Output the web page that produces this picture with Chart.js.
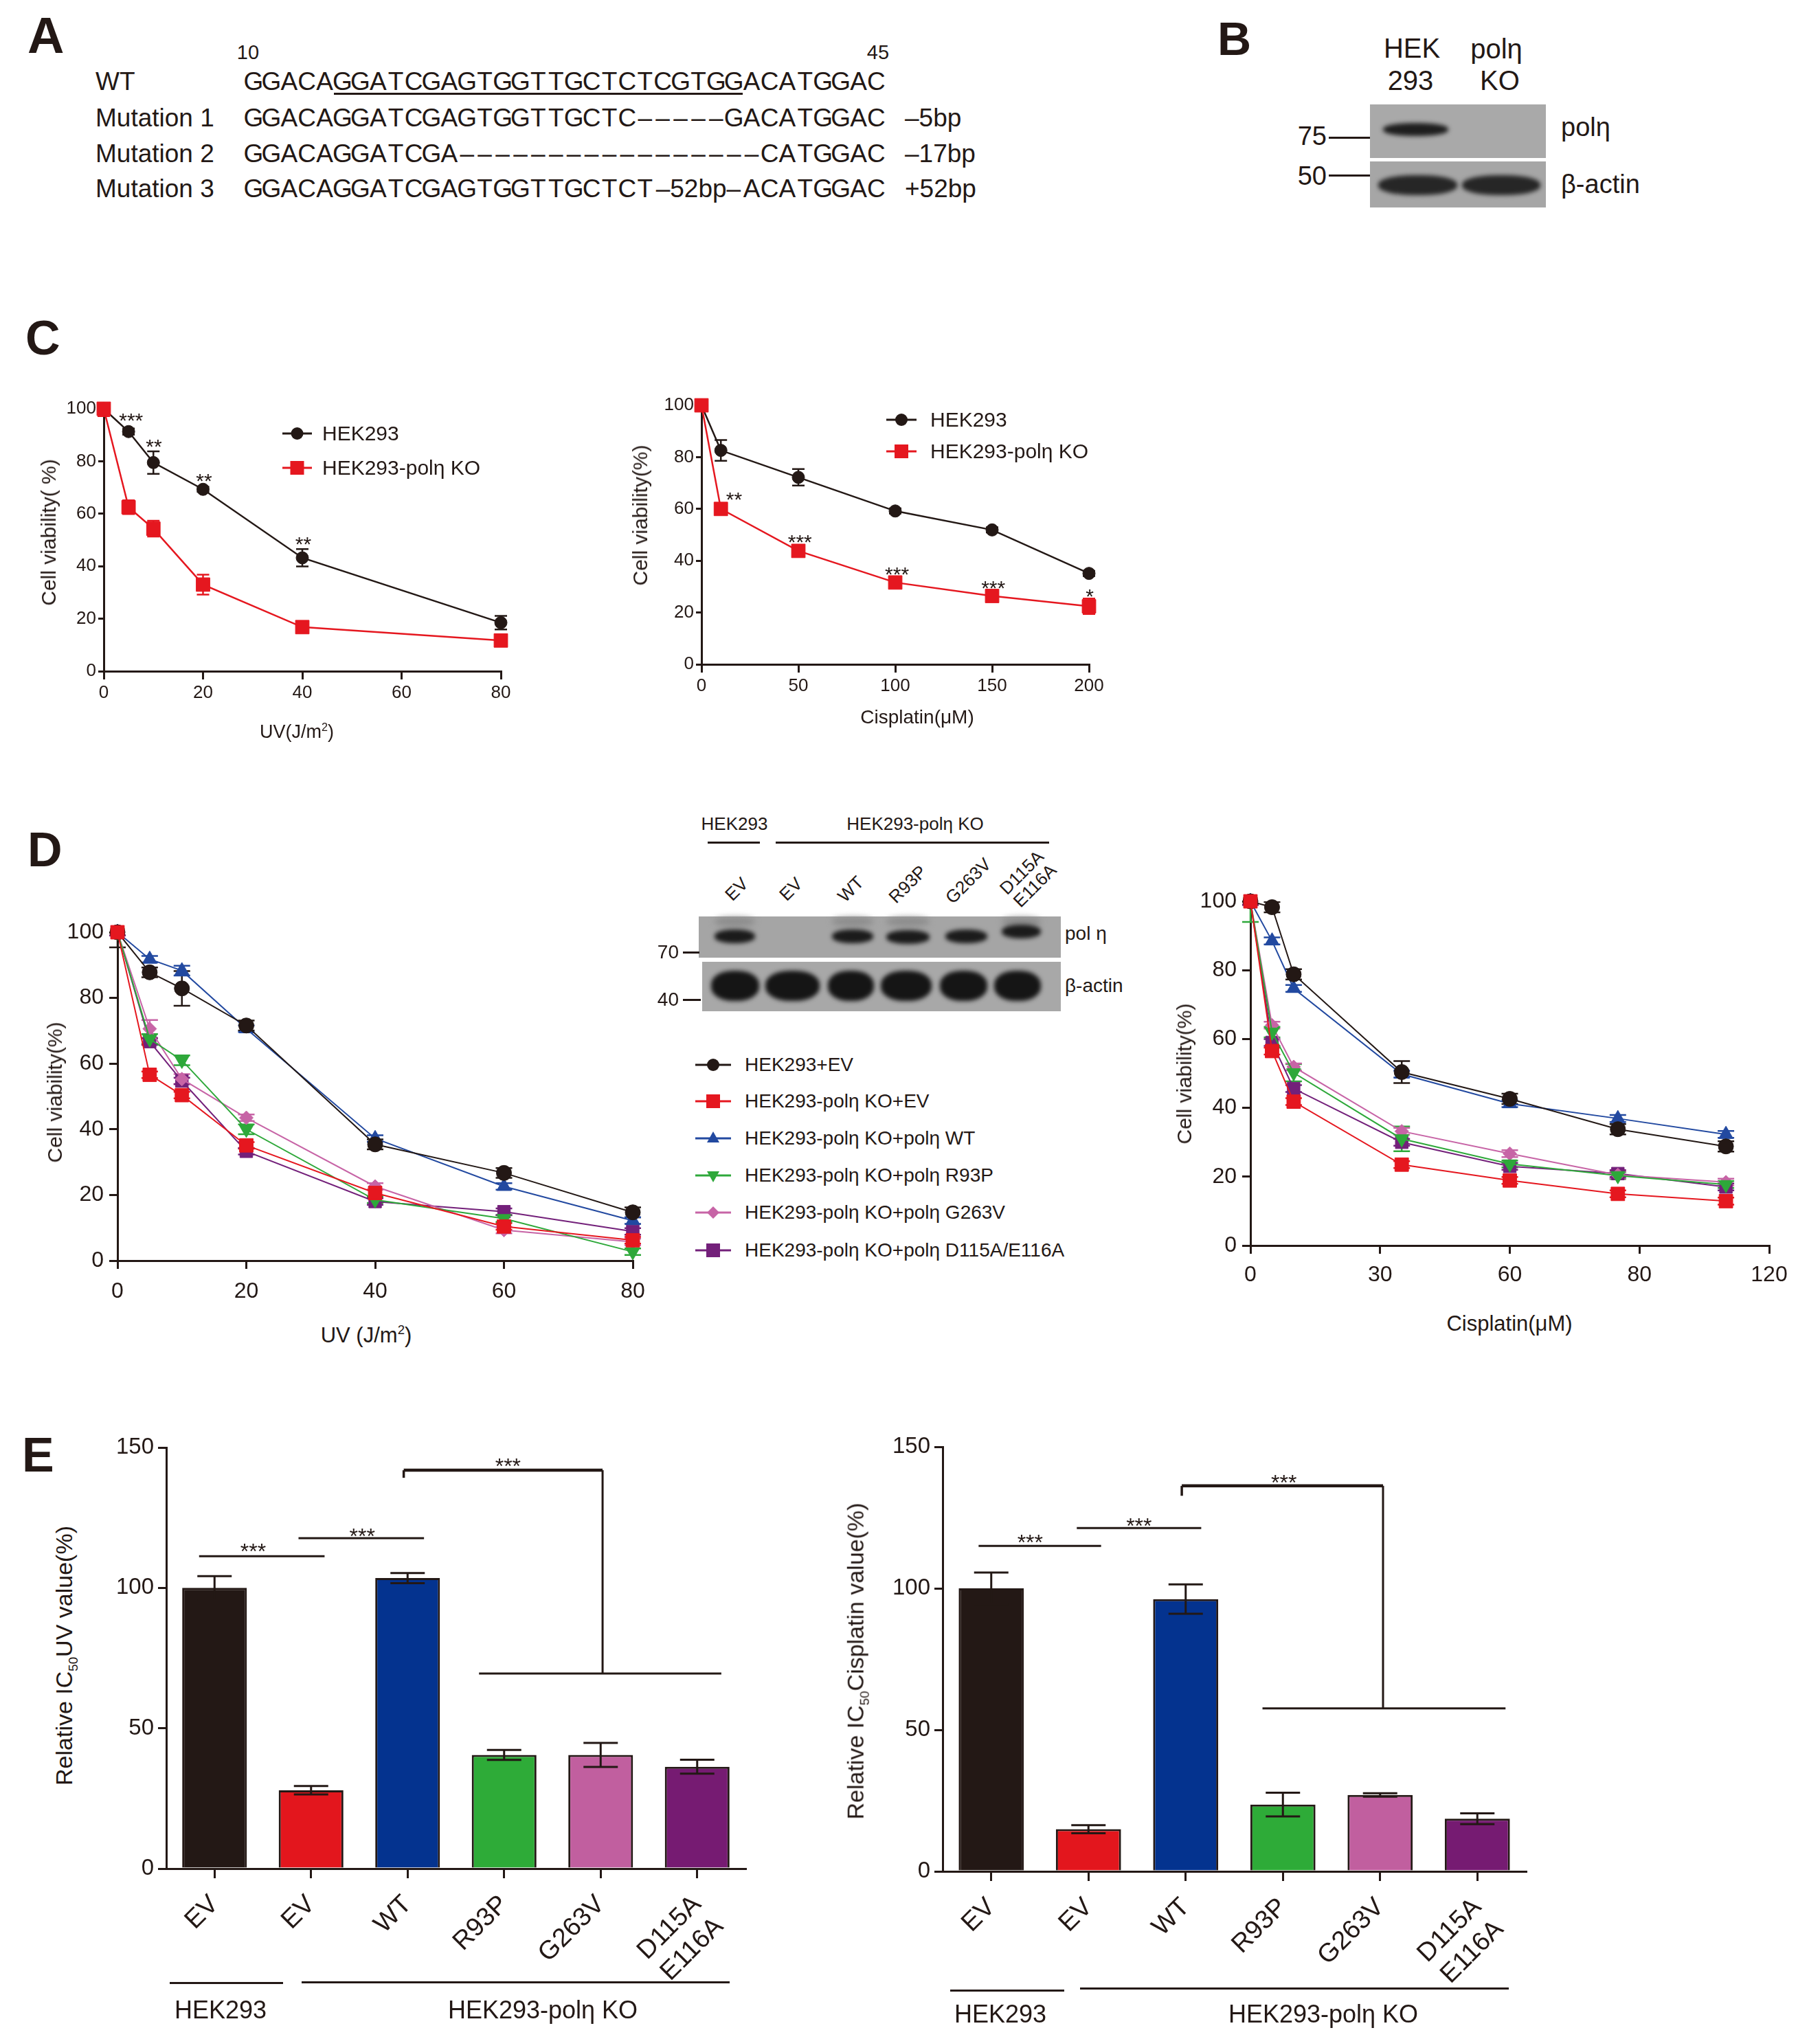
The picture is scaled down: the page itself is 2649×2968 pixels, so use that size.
<!DOCTYPE html>
<html><head><meta charset="utf-8">
<script src="https://cdn.jsdelivr.net/npm/chart.js@4.4.1/dist/chart.umd.min.js"></script>
<style>
html,body{margin:0;padding:0;background:#fff;}
#page{position:relative;width:2649px;height:2968px;overflow:hidden;background:#fff;font-family:"Liberation Sans",Arial,sans-serif;color:#231815;}
.t{position:absolute;white-space:nowrap;line-height:1;z-index:3;}
canvas{position:absolute;z-index:1;}
.ln{position:absolute;background:#231815;z-index:3;}
.blot{position:absolute;z-index:1;}
.band{position:absolute;background:#1b1b1b;border-radius:45%;filter:blur(3px);z-index:2;}
svg.lg{position:absolute;overflow:visible;z-index:3;}
</style></head><body><div id="page"></div>
<script>
// ---------------- DATA ----------------
// Panel C, UV
const uvDoseC   = [0, 5, 10, 20, 40, 80];
const uvHekC    = [100, 91.3, 79.5, 69.3, 43.2, 18.5];
const uvHekErrC = [0.8, 1.2, 4.3, 1.0, 3.3, 2.6];
const uvKoC     = [100, 62.5, 54.3, 33.0, 16.8, 11.7];
const uvKoErrC  = [2.8, 2.6, 3.0, 3.8, 1.2, 1.0];
const uvStarX   = [5.5, 10.1, 20.2, 40.2];
const uvStarY   = [97.5, 87.5, 74.5, 50.3];
const uvStarT   = ['***', '**', '**', '**'];
// Panel C, cisplatin
const cisDoseC   = [0, 10, 50, 100, 150, 200];
const cisHekC    = [100, 82.6, 72.2, 59.2, 51.9, 35.1];
const cisHekErrC = [0.8, 4.0, 3.2, 1.0, 1.0, 1.0];
const cisKoC     = [100, 60.0, 43.8, 31.6, 26.4, 22.4];
const cisKoErrC  = [1.0, 1.0, 1.0, 1.5, 1.2, 3.0];
const cisStarX   = [16.8, 50.8, 100.9, 150.6, 200.4];
const cisStarY   = [65.5, 49.2, 36.8, 31.4, 28.2];
const cisStarT   = ['**', '***', '***', '***', '*'];
// Panel D
const dNames = ['HEK293+EV', 'HEK293-polη KO+EV', 'HEK293-polη KO+polη WT', 'HEK293-polη KO+polη R93P', 'HEK293-polη KO+polη G263V', 'HEK293-polη KO+polη D115A/E116A'];
const uvDoseD = [0, 5, 10, 20, 40, 60, 80];
const uvHekEV  = [100, 87.8, 82.9, 71.6, 35.4, 26.7, 14.7];
const uvKoEV   = [100, 56.6, 50.4, 35.1, 20.6, 10.4, 6.2];
const uvKoWT   = [100, 91.8, 88.3, 70.6, 37.2, 22.6, 12.2];
const uvKoR93P = [100, 67.5, 61.0, 40.0, 18.5, 12.8, 2.7];
const uvKoG263V= [100, 70.6, 55.3, 43.5, 22.6, 9.3, 5.7];
const uvKoDE   = [100, 66.7, 54.7, 33.3, 18.0, 14.9, 8.9];
const uvErrHekEV = [4.6, 1.5, 5.3, 1.5, 1.5, 1.5, 1.5];
const uvErrKoEV  = [1, 1, 1, 1, 1, 1, 1];
const uvErrKoWT  = [1, 1, 1.5, 1, 1, 1, 1];
const uvErrR93P  = [1, 1.5, 1.5, 1.5, 1, 1, 1];
const uvErrG263V = [1, 2.7, 1.5, 1, 1, 1, 1];
const uvErrDE    = [1, 1, 1, 1, 1, 1, 1];
const cisDoseD = [0, 5, 10, 35, 60, 85, 110];
const cisTickText = ['0', '30', '60', '80', '120'];
const cisHekEV  = [100, 98.3, 78.8, 50.4, 42.6, 33.8, 28.8];
const cisKoEV   = [100, 56.5, 41.8, 23.5, 18.9, 15.0, 12.9];
const cisKoWT   = [100, 88.5, 74.7, 49.8, 41.2, 36.9, 32.3];
const cisKoR93P = [100, 62.0, 50.2, 31.0, 23.7, 20.3, 17.7];
const cisKoG263V= [100, 64.0, 51.9, 33.2, 26.7, 20.5, 18.4];
const cisKoDE   = [100, 59.0, 45.6, 30.0, 23.0, 20.9, 17.0];
const cisErrHekEV = [1, 1.5, 1.5, 3.2, 1.5, 1.5, 1.5];
const cisErrKoEV  = [1, 1, 1, 1, 1, 1, 1];
const cisErrKoWT  = [1, 1, 1, 1, 1, 1, 1];
const cisErrR93P  = [6, 1.5, 2.5, 3.6, 1, 1, 1];
const cisErrG263V = [1, 1, 1, 1, 1, 1, 1];
const cisErrDE    = [1, 1, 1, 1, 1, 1, 1];
// Panel E
const eCats = ['EV', 'EV', 'WT', 'R93P', 'G263V', ['D115A', 'E116A']];
const eUv       = [100, 27.9, 103.5, 40.5, 40.5, 36.3];
const eUvErr    = [4.2, 1.5, 1.8, 1.8, 4.3, 2.5];
const eCis      = [100, 14.9, 96.2, 23.6, 27.0, 18.6];
const eCisErr   = [5.6, 1.4, 5.2, 4.2, 0.6, 1.9];
// significance lines in (category, value) units: [x1, x2, y]
const eUvSig   = [[-0.16, 1.14, 111.3], [0.87, 2.17, 117.7]];
const eUvBig   = [1.96, 4.02, 141.9, 139.2, 69.5, 2.74, 5.25];
const eUvStars = [[0.40, 114.8], [1.53, 120.4], [3.04, 145.3]];
const eCisSig  = [[-0.13, 1.13, 115.0], [0.88, 2.16, 121.3]];
const eCisBig  = [1.96, 4.03, 136.2, 132.7, 57.6, 2.79, 5.29];
const eCisStars= [[0.40, 118.0], [1.52, 124.0], [3.01, 139.1]];

// ---------------- STYLE ----------------
const AX = '#231815', BLK = '#231815', RED = '#e5171f';
const dColors = ['#231815', '#e5171f', '#2249a0', '#2ea83a', '#c764a6', '#73207a'];
const dStyles = ['circle', 'rect', 'triangle', 'triangle', 'rectRot', 'rect'];
const dRot    = [0, 0, 0, 180, 0, 0];
const dRad    = [11, 14, 12, 12, 10, 13];
const dOrder  = [1, 0, 2, 3, 4, 5];
const eColors = ['#231815', '#e3161d', '#04338f', '#2eab38', '#c15f9f', '#761b72'];
const FONT = '"Liberation Sans", Arial, sans-serif';

const page = document.getElementById('page');
function el(tag, cls, css, html) {
  const d = document.createElement(tag);
  if (cls) d.className = cls;
  Object.assign(d.style, css);
  if (html !== undefined) d.innerHTML = html;
  page.appendChild(d);
  return d;
}
// text positioned by visual centre; align l/c/r
function T(html, x, cy, size, align, extra) {
  const tx = align === 'c' ? '-50%' : align === 'r' ? '-100%' : '0';
  return el('div', 't', Object.assign({ left: x + 'px', top: cy + 'px', fontSize: size + 'px', transform: `translate(${tx},-50%)` }, extra || {}), html);
}
function R(html, cx, cy, size, deg, extra) {
  return el('div', 't', Object.assign({ left: cx + 'px', top: cy + 'px', fontSize: size + 'px', transform: `translate(-50%,-50%) rotate(${deg}deg)`, textAlign: 'center' }, extra || {}), html);
}
function L(x1, y, x2, h) { return el('div', 'ln', { left: x1 + 'px', top: (y - h / 2) + 'px', width: (x2 - x1) + 'px', height: h + 'px' }); }
function blot(x1, y1, x2, y2, col) { return el('div', 'blot', { left: x1 + 'px', top: y1 + 'px', width: (x2 - x1) + 'px', height: (y2 - y1) + 'px', background: col }); }
function band(x1, y1, x2, y2, col, blur) { return el('div', 'band', { left: x1 + 'px', top: y1 + 'px', width: (x2 - x1) + 'px', height: (y2 - y1) + 'px', background: col || '#1b1b1b', filter: `blur(${blur || 3}px)` }); }
function shapeSvg(shape, cx, cy, s, col) {
  if (shape === 'circle') return `<circle cx="${cx}" cy="${cy}" r="${s}" fill="${col}"/>`;
  if (shape === 'square') return `<rect x="${cx - s}" y="${cy - s}" width="${2 * s}" height="${2 * s}" fill="${col}"/>`;
  if (shape === 'up') return `<polygon points="${cx},${cy - s} ${cx + 0.9 * s},${cy + 0.6 * s} ${cx - 0.9 * s},${cy + 0.6 * s}" fill="${col}"/>`;
  if (shape === 'down') return `<polygon points="${cx},${cy + s} ${cx + 0.9 * s},${cy - 0.6 * s} ${cx - 0.9 * s},${cy - 0.6 * s}" fill="${col}"/>`;
  if (shape === 'diamond') return `<polygon points="${cx},${cy - s} ${cx + s},${cy} ${cx},${cy + s} ${cx - s},${cy}" fill="${col}"/>`;
  return '';
}
function legendRow(x1, x2, cy, col, shape, s, label, tx, fs) {
  const w = x2 - x1;
  const d = el('div', '', { position: 'absolute', left: x1 + 'px', top: (cy - 20) + 'px', width: w + 'px', height: '40px', zIndex: 3 });
  d.innerHTML = `<svg class="lg" width="${w}" height="40" style="left:0;top:0"><line x1="0" y1="20" x2="${w}" y2="20" stroke="${col}" stroke-width="3"/>${shapeSvg(shape, w / 2, 20, s, col)}</svg>`;
  T(label, tx, cy, fs, 'l');
}

// ---------------- PANEL A ----------------
T('<b>A</b>', 40, 52, 74, 'l', { fontWeight: 'bold' });
T('10', 361, 76, 29, 'c');
T('45', 1278, 76, 29, 'c');
const seqLeft = 356, cellW = 25.9;
const rowsA = [['WT', 'GGACAGGATCGAGTGGTTGCTCTCGTGGACATGGAC', '', 118],
               ['Mutation 1', 'GGACAGGATCGAGTGGTTGCTC-----GACATGGAC', '–5bp', 171],
               ['Mutation 2', 'GGACAGGATCGA-----------------CATGGAC', '–17bp', 223],
               ['Mutation 3', null, '+52bp', 274]];
function seqCells(str, startCell, cy) {
  for (let i = 0; i < str.length; i++) {
    const ch = str[i] === '-' ? '–' : str[i];
    T(ch, seqLeft + (startCell + i + 0.5) * cellW, cy, 37, 'c');
  }
}
rowsA.forEach(r => {
  T(r[0], 139, r[3], 37, 'l');
  if (r[1]) seqCells(r[1], 0, r[3]);
  else {
    seqCells('GGACAGGATCGAGTGGTTGCTCT', 0, r[3]);
    T('–52bp–', seqLeft + 25.5 * cellW, r[3], 37, 'c');
    seqCells('ACATGGAC', 28, r[3]);
  }
  if (r[2]) T(r[2], 1317, r[3], 37, 'l');
});
L(seqLeft + 5 * cellW, 136, seqLeft + 28 * cellW, 3);

// ---------------- PANEL B ----------------
T('<b>B</b>', 1772, 56, 68, 'l');
T('HEK', 2055, 70, 40, 'c'); T('293', 2053, 117, 40, 'c');
T('polη', 2178, 71, 40, 'c'); T('KO', 2183, 117, 40, 'c');
blot(1994, 152, 2250, 230, '#a9a9a9');
blot(1994, 235, 2250, 302, '#a6a6a6');
band(2013, 179, 2108, 198, '#1e1e1e', 3);
band(2006, 255, 2121, 284, '#262626', 3);
band(2128, 255, 2242, 284, '#262626', 3);
T('75', 1931, 198, 38, 'r'); L(1934, 200, 1994, 3);
T('50', 1931, 256, 38, 'r'); L(1934, 255, 1994, 3);
T('polη', 2272, 185, 38, 'l');
T('β-actin', 2272, 268, 38, 'l');

// ---------------- PANEL C / D / E letters ----------------
T('<b>C</b>', 37, 492, 70, 'l');
T('<b>D</b>', 40, 1237, 70, 'l');
T('<b>E</b>', 32, 2118, 70, 'l');

// ---------------- Chart.js helpers ----------------
Chart.defaults.font.family = FONT;
Chart.defaults.color = AX;
const errPlugin = {
  id: 'errbars',
  beforeDatasetsDraw(chart) { drawErr(chart, 'line'); },
  afterDatasetsDraw(chart) { drawErr(chart, 'bar'); }
};
function drawErr(chart, kind) {
  if (chart.config.type !== kind) return;
  const ctx = chart.ctx, ys = chart.scales.y, ca = chart.chartArea;
  ctx.save();
  ctx.beginPath();
  ctx.rect(ca.left - 40, ca.top, ca.right - ca.left + 80, ca.bottom - ca.top);
  ctx.clip();
  chart.data.datasets.forEach((ds, di) => {
    if (!ds.errors) return;
    const meta = chart.getDatasetMeta(di);
    meta.data.forEach((p, i) => {
      const e = ds.errors[i]; if (!e) return;
      const v = kind === 'bar' ? ds.data[i] : ds.data[i].y;
      const x = p.x, yT = ys.getPixelForValue(v + e), yB = ys.getPixelForValue(v - e), c = ds.capW || 9;
      ctx.strokeStyle = ds.errColor || ds.borderColor; ctx.lineWidth = ds.errWidth || 2.5;
      ctx.beginPath();
      ctx.moveTo(x, yT); ctx.lineTo(x, yB);
      ctx.moveTo(x - c, yT); ctx.lineTo(x + c, yT);
      ctx.moveTo(x - c, yB); ctx.lineTo(x + c, yB);
      ctx.stroke();
    });
  });
  ctx.restore();
}
const sigPlugin = {
  id: 'sig',
  afterDraw(chart, args, o) {
    if (!o || (!o.stars && !o.lines)) return;
    const ctx = chart.ctx, xs = chart.scales.x, ys = chart.scales.y;
    ctx.save();
    ctx.strokeStyle = AX; ctx.fillStyle = AX;
    (o.lines || []).forEach(l => {
      ctx.lineWidth = l[3] || 3;
      ctx.beginPath();
      ctx.moveTo(xs.getPixelForValue(l[0]), ys.getPixelForValue(l[2]));
      ctx.lineTo(xs.getPixelForValue(l[1]), ys.getPixelForValue(l[2]));
      ctx.stroke();
    });
    if (o.big) {
      const b = o.big;
      const X1 = xs.getPixelForValue(b[0]), X2 = xs.getPixelForValue(b[1]);
      const Y = ys.getPixelForValue(b[2]), YT = ys.getPixelForValue(b[3]), YL = ys.getPixelForValue(b[4]);
      ctx.lineWidth = 4.5; ctx.beginPath(); ctx.moveTo(X1, Y); ctx.lineTo(X2, Y); ctx.stroke();
      ctx.lineWidth = 3.5; ctx.beginPath(); ctx.moveTo(X1, Y); ctx.lineTo(X1, YT); ctx.stroke();
      ctx.lineWidth = 3; ctx.beginPath(); ctx.moveTo(X2, Y); ctx.lineTo(X2, YL);
      ctx.moveTo(xs.getPixelForValue(b[5]), YL); ctx.lineTo(xs.getPixelForValue(b[6]), YL); ctx.stroke();
    }
    const fs = o.fs || 30;
    ctx.font = `${fs}px ${FONT}`; ctx.textAlign = 'center'; ctx.textBaseline = 'alphabetic';
    (o.stars || []).forEach(s => {
      ctx.fillText(s[2] || '***', xs.getPixelForValue(s[0]), ys.getPixelForValue(s[1]) + 0.58 * fs);
    });
    ctx.restore();
  }
};
Chart.register(errPlugin, sigPlugin);

function linScale(o) {
  return {
    type: 'linear', min: o.min, max: o.max,
    ticks: { stepSize: o.step, font: { size: o.fs }, color: AX, padding: o.pad, autoSkip: false, maxRotation: 0, minRotation: 0,
             callback: o.cb || (v => String(v)) },
    grid: { display: true, drawOnChartArea: false, drawTicks: true, tickLength: o.tl, tickWidth: 3, tickColor: AX, lineWidth: 3, color: AX },
    border: { display: true, color: AX, width: 3 }
  };
}
function makeChart(cfg, a, m) {
  const c = document.createElement('canvas');
  const W = a.r - a.l + m.l + m.r, H = a.b - a.t + m.t + m.b;
  c.width = W; c.height = H;
  Object.assign(c.style, { left: (a.l - m.l) + 'px', top: (a.t - m.t) + 'px', width: W + 'px', height: H + 'px' });
  page.appendChild(c);
  cfg.options.scales.x.afterFit = s => { s.height = m.b; s.paddingLeft = 0; s.paddingRight = 0; };
  cfg.options.scales.y.afterFit = s => { s.width = m.l; s.paddingTop = 0; s.paddingBottom = 0; };
  cfg.options.layout = { padding: { left: 0, top: m.t, right: m.r, bottom: 0 } };
  cfg.options.responsive = false; cfg.options.maintainAspectRatio = false;
  cfg.options.animation = false; cfg.options.devicePixelRatio = 1;
  cfg.options.plugins = Object.assign({ legend: { display: false }, tooltip: { enabled: false } }, cfg.options.plugins || {});
  return new Chart(c, cfg);
}
function lineDS(label, xs, ys, errs, color, style, radius, rot, width, order, cap) {
  return { label, data: xs.map((x, i) => ({ x, y: ys[i] })), errors: errs,
    borderColor: color, backgroundColor: color, pointBackgroundColor: color, pointBorderColor: color, pointBorderWidth: 1,
    pointStyle: style, pointRadius: radius, pointRotation: rot, borderWidth: width, tension: 0, clip: false, order,
    capW: cap || 9, errWidth: 2.5 };
}
const zip3 = (xs, ys, ts) => xs.map((x, i) => [x, ys[i], ts[i]]);

// ---------------- PANEL C charts ----------------
makeChart({ type: 'line', data: { datasets: [
    lineDS('HEK293', uvDoseC, uvHekC, uvHekErrC, BLK, 'circle', 9, 0, 2.5, 1),
    lineDS('HEK293-polη KO', uvDoseC, uvKoC, uvKoErrC, RED, 'rect', 14, 0, 2.5, 0) ] },
  options: { scales: { x: linScale({ min: 0, max: 80, step: 20, fs: 26, tl: 12, pad: 4 }),
                       y: linScale({ min: 0, max: 100, step: 20, fs: 26, tl: 8, pad: 3 }) },
             plugins: { sig: { fs: 30, stars: zip3(uvStarX, uvStarY, uvStarT) } } } },
  { l: 151, r: 729, t: 595, b: 977 }, { l: 100, t: 40, r: 60, b: 80 });
makeChart({ type: 'line', data: { datasets: [
    lineDS('HEK293', cisDoseC, cisHekC, cisHekErrC, BLK, 'circle', 9, 0, 2.5, 1),
    lineDS('HEK293-polη KO', cisDoseC, cisKoC, cisKoErrC, RED, 'rect', 14, 0, 2.5, 0) ] },
  options: { scales: { x: linScale({ min: 0, max: 200, step: 50, fs: 26, tl: 12, pad: 4 }),
                       y: linScale({ min: 0, max: 100, step: 20, fs: 26, tl: 8, pad: 3 }) },
             plugins: { sig: { fs: 30, stars: zip3(cisStarX, cisStarY, cisStarT) } } } },
  { l: 1021, r: 1585, t: 590, b: 967 }, { l: 100, t: 40, r: 60, b: 80 });
R('Cell viability( %)', 71, 775, 30, -90);
T('UV(J/m<sup style="font-size:60%">2</sup>)', 432, 1064, 27, 'c');
R('Cell viability(%)', 932, 750, 30, -90);
T('Cisplatin(μM)', 1335, 1044, 28, 'c');
legendRow(411, 454, 631, BLK, 'circle', 9, 'HEK293', 469, 30);
legendRow(411, 454, 681, RED, 'square', 10, 'HEK293-polη KO', 469, 30);
legendRow(1290, 1334, 611, BLK, 'circle', 9, 'HEK293', 1354, 30);
legendRow(1290, 1334, 657, RED, 'square', 10, 'HEK293-polη KO', 1354, 30);

// ---------------- PANEL D charts ----------------
const uvSeries  = [uvHekEV, uvKoEV, uvKoWT, uvKoR93P, uvKoG263V, uvKoDE];
const uvErrs    = [uvErrHekEV, uvErrKoEV, uvErrKoWT, uvErrR93P, uvErrG263V, uvErrDE];
const cisSeries = [cisHekEV, cisKoEV, cisKoWT, cisKoR93P, cisKoG263V, cisKoDE];
const cisErrs   = [cisErrHekEV, cisErrKoEV, cisErrKoWT, cisErrR93P, cisErrG263V, cisErrDE];
makeChart({ type: 'line', data: { datasets: uvSeries.map((s, i) =>
    lineDS(dNames[i], uvDoseD, s, uvErrs[i], dColors[i], dStyles[i], dRad[i], dRot[i], 2, dOrder[i], 12)) },
  options: { scales: { x: linScale({ min: 0, max: 80, step: 20, fs: 32, tl: 12, pad: 14 }),
                       y: linScale({ min: 0, max: 100, step: 20, fs: 32, tl: 12, pad: 8 }) } } },
  { l: 171, r: 921, t: 1357, b: 1835 }, { l: 110, t: 40, r: 60, b: 90 });
makeChart({ type: 'line', data: { datasets: cisSeries.map((s, i) =>
    lineDS(dNames[i], cisDoseD, s, cisErrs[i], dColors[i], dStyles[i], dRad[i], dRot[i], 2, dOrder[i], 12)) },
  options: { scales: { x: linScale({ min: 0, max: 120, step: 30, fs: 32, tl: 12, pad: 12, cb: (v, i) => cisTickText[i] }),
                       y: linScale({ min: 0, max: 100, step: 20, fs: 32, tl: 12, pad: 8 }) } } },
  { l: 1820, r: 2575, t: 1312, b: 1813 }, { l: 110, t: 40, r: 60, b: 90 });
R('Cell viability(%)', 80, 1590, 30, -90);
T('UV (J/m<sup style="font-size:60%">2</sup>)', 533, 1943, 31, 'c');
R('Cell viability(%)', 1724, 1563, 30, -90);
T('Cisplatin(μM)', 2197, 1926, 31, 'c');

// D western blot
T('HEK293', 1069, 1199, 26, 'c'); L(1030, 1226, 1106, 3);
T('HEK293-polη KO', 1332, 1199, 26, 'c'); L(1129, 1226, 1527, 3);
R('EV', 1072, 1294, 26, -45); R('EV', 1151, 1294, 26, -45); R('WT', 1238, 1294, 26, -45);
R('R93P', 1321, 1287, 26, -45); R('G263V', 1409, 1282, 26, -45);
R('D115A<br>E116A', 1497, 1280, 26, -45, { lineHeight: '1.05' });
blot(1017, 1334, 1544, 1394, '#a5a5a5');
blot(1022, 1400, 1544, 1472, '#a8a8a8');
[[1040, 1099], [1211, 1271], [1290, 1353], [1458, 1515]].forEach(b => band(b[0], 1335, b[1], 1348, '#8c8c8c', 4));
[[1040, 1099, 1363], [1211, 1271, 1363], [1290, 1353, 1364], [1376, 1437, 1363], [1458, 1515, 1356]].forEach(b => band(b[0], b[2] - 10, b[1], b[2] + 10, '#1b1b1b', 3));
[[1035, 1105], [1114, 1193], [1205, 1272], [1282, 1356], [1368, 1437], [1447, 1515]].forEach(b => band(b[0], 1413, b[1], 1457, '#151515', 3));
T('pol η', 1550, 1359, 28, 'l');
T('β-actin', 1550, 1435, 28, 'l');
T('70', 988, 1386, 28, 'r'); L(994, 1386, 1018, 3);
T('40', 988, 1455, 28, 'r'); L(994, 1455, 1020, 3);
const dLegShapes = ['circle', 'square', 'up', 'down', 'diamond', 'square'];
const dLegSize   = [9, 10, 10, 10, 9, 10];
const dLegY      = [1550, 1603, 1657, 1711, 1765, 1820];
dNames.forEach((n, i) => legendRow(1012, 1064, dLegY[i], dColors[i], dLegShapes[i], dLegSize[i], n, 1084, 28));

// ---------------- PANEL E charts ----------------
function barX() {
  return { type: 'category', offset: true,
    ticks: { font: { size: 38 }, color: AX, minRotation: 45, maxRotation: 45, autoSkip: false, padding: 16 },
    grid: { display: true, offset: false, drawOnChartArea: false, drawTicks: true, tickLength: 14, tickWidth: 3, tickColor: AX, color: AX, lineWidth: 3 },
    border: { display: true, color: AX, width: 3 } };
}
function barDS(vals, errs) {
  return { data: vals, errors: errs, backgroundColor: eColors, borderColor: BLK, borderWidth: 3,
           barPercentage: 0.67, categoryPercentage: 1, errColor: BLK, capW: 25, errWidth: 3 };
}
makeChart({ type: 'bar', data: { labels: eCats, datasets: [barDS(eUv, eUvErr)] },
  options: { scales: { x: barX(), y: linScale({ min: 0, max: 150, step: 50, fs: 33, tl: 12, pad: 6 }) },
             plugins: { sig: { fs: 32, lines: eUvSig, big: eUvBig, stars: eUvStars } } } },
  { l: 242, r: 1085, t: 2107, b: 2720 }, { l: 110, t: 40, r: 40, b: 200 });
makeChart({ type: 'bar', data: { labels: eCats, datasets: [barDS(eCis, eCisErr)] },
  options: { scales: { x: barX(), y: linScale({ min: 0, max: 150, step: 50, fs: 33, tl: 12, pad: 6 }) },
             plugins: { sig: { fs: 32, lines: eCisSig, big: eCisBig, stars: eCisStars } } } },
  { l: 1372, r: 2221, t: 2106, b: 2724 }, { l: 110, t: 40, r: 40, b: 200 });
R('Relative IC<sub style="font-size:55%">50</sub>UV value(%)', 96, 2410, 34, -90);
R('Relative IC<sub style="font-size:55%">50</sub>Cisplatin value(%)', 1248, 2418, 34, -90);
L(247, 2886, 412, 3); L(439, 2885, 1062, 3);
T('HEK293', 321, 2926, 36, 'c'); T('HEK293-polη KO', 790, 2926, 36, 'c');
L(1383, 2897, 1549, 3); L(1572, 2894, 2196, 3);
T('HEK293', 1456, 2932, 36, 'c'); T('HEK293-polη KO', 1926, 2932, 36, 'c');
</script>
</body></html>
